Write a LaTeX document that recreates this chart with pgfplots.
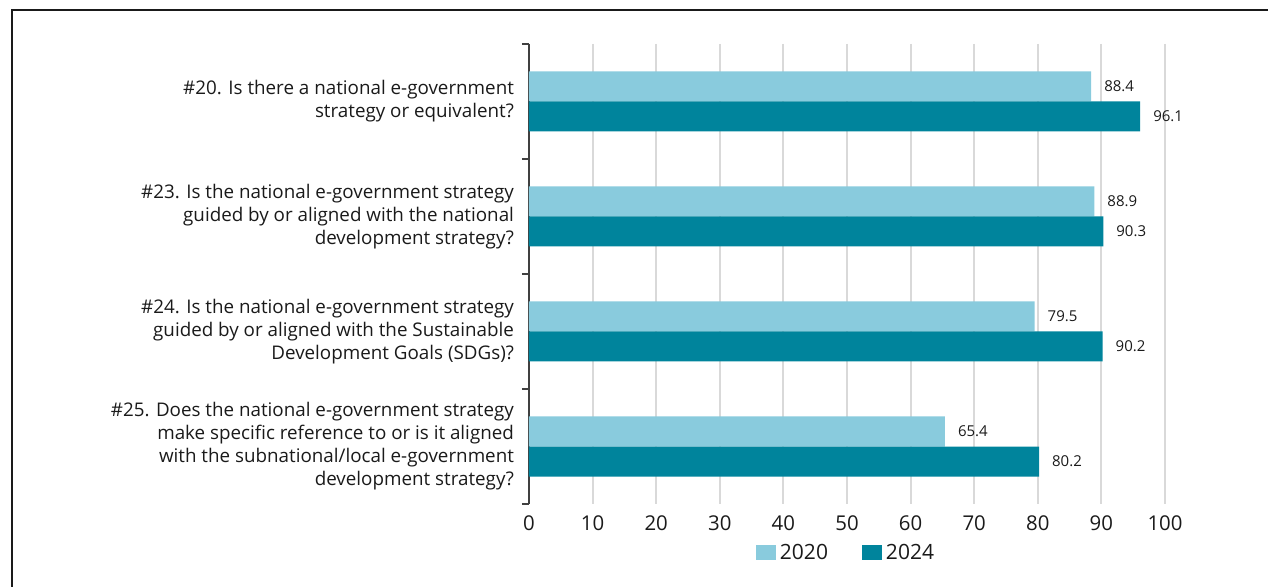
\documentclass[border=0pt]{standalone}
\usepackage{fontspec}
\setmainfont{Open Sans}
\usepackage{pgfplots}
\pgfplotsset{compat=1.18}

\definecolor{light}{HTML}{89CBDD}
\definecolor{teal24}{HTML}{00849C}
\definecolor{gridgrey}{HTML}{D9D9D9}
\definecolor{txt}{HTML}{1A1A1A}

\begin{document}
\begin{tikzpicture}
% page: 1268x587 px at 0.5pt per px, axis origin at px (529,504)
\useasboundingbox (-264.5pt,-41.5pt) rectangle (369.5pt,252pt);
\draw[line width=1pt, txt] (-258.5pt,-60pt) -- (-258.5pt,247pt) -- (380pt,247pt);
\begin{axis}[
  scale only axis,
  width=318pt, height=230pt,
  xbar, bar width=15pt,
  xmin=0, xmax=100,
  ymin=-0.5, ymax=3.5,
  y dir=reverse,
  axis lines*=left,
  axis line style={-},
  x axis line style={draw=none},
  y axis line style={draw=black!75, line width=1pt},
  xtick={0,10,...,100},
  ytick={0,1,2,3},
  minor ytick={-0.5,0.5,1.5,2.5,3.5},
  tick align=outside,
  major tick length=0pt,
  minor tick length=3.5pt,
  minor tick style={draw=black!75, line width=1pt},
  xmajorgrids,
  major grid style={draw=gridgrey, line width=1pt},
  /pgf/number format/assume math mode=true,
  xticklabel style={font=\fontsize{10.2}{12}\selectfont, text=txt, yshift=-2.5pt},
  yticklabels={
    {\#20. Is there a national e-government\\strategy or equivalent?},
    {\#23. Is the national e-government strategy\\guided by or aligned with the national\\development strategy?},
    {\#24. Is the national e-government strategy\\guided by or aligned with the Sustainable\\Development Goals (SDGs)?},
    {\#25. Does the national e-government strategy\\make specific reference to or is it aligned\\with the subnational/local e-government\\development strategy?}
  },
  yticklabel style={align=right, font=\fontsize{9.4}{11.5}\selectfont, text=txt, xshift=-4pt},
  nodes near coords,
  point meta=x,
  nodes near coords style={font=\fontsize{7.5}{9}\selectfont, text=txt, anchor=west, xshift=3pt,
    /pgf/number format/.cd, fixed, precision=1, fixed zerofill},
  legend columns=2,
  legend style={at={(axis description cs:0.5,-0.1065)}, anchor=center, draw=none,
    font=\fontsize{10.5}{12}\selectfont, text=txt,
    /tikz/every even column/.append style={column sep=15pt}},
  legend image code/.code={\fill[#1] (0pt,-3.75pt) rectangle (10pt,3.75pt);},
]
\addplot[fill=light, draw=none, bar shift=7.5pt] coordinates {(88.4,0) (88.9,1) (79.5,2) (65.4,3)};
\addplot[fill=teal24, draw=none, bar shift=-7.5pt] coordinates {(96.1,0) (90.3,1) (90.2,2) (80.2,3)};
\legend{2020,2024}
\end{axis}
\end{tikzpicture}
\end{document}
